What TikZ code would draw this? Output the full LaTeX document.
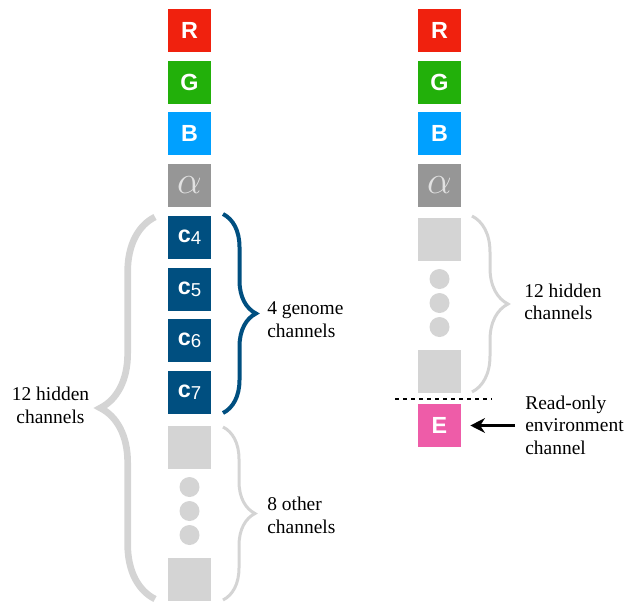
\documentclass[tikz,border=0pt]{standalone}
\usepackage{fontspec}
\usepackage{graphicx}
\setmainfont{Liberation Serif}
\setsansfont{Liberation Sans}
\usetikzlibrary{arrows.meta,decorations.pathreplacing}
\definecolor{chanred}{RGB}{240,33,14}
\definecolor{changreen}{RGB}{34,176,10}
\definecolor{chanblue}{RGB}{0,160,255}
\definecolor{changray}{RGB}{150,150,150}
\definecolor{alphagray}{RGB}{225,225,225}
\definecolor{genomeblue}{RGB}{0,79,128}
\definecolor{hiddengray}{RGB}{212,212,212}
\definecolor{envpink}{RGB}{238,92,168}
\newcommand{\chanlabel}[1]{c\raisebox{-1.5pt}{\mdseries\fontsize{14}{14}\selectfont #1}}
\newcommand{\alphalabel}{\scalebox{1.7}{$\alpha$}}
\begin{document}
\begin{tikzpicture}[x=0.75pt,y=-0.75pt,
    chan/.style={minimum size=32.25pt,inner sep=0pt,text=white,
      font=\sffamily\bfseries\fontsize{17.5}{17.5}\selectfont},
    hidden/.style={minimum size=32.25pt,inner sep=0pt,fill=hiddengray},
    dot/.style={circle,fill=hiddengray,minimum size=15pt,inner sep=0pt},
    lbl/.style={inner sep=0pt,font=\fontsize{14.6}{17}\selectfont},
    curly/.style={decorate,decoration={brace,amplitude=#1}}]
  \useasboundingbox (0,0) rectangle (629,601);
  % left column
  \node[chan,fill=chanred] (R1) at (189.5,30.5) {R};
  \node[chan,fill=changreen] (G1) at (189.5,82.5) {G};
  \node[chan,fill=chanblue] (B1) at (189.5,133.5) {B};
  \node[chan,fill=changray,text=alphagray] (A1) at (189.5,185.5) {\alphalabel};
  \node[chan,fill=genomeblue] (C4) at (189.5,237.5) {\chanlabel{4}};
  \node[chan,fill=genomeblue] (C5) at (189.5,289.5) {\chanlabel{5}};
  \node[chan,fill=genomeblue] (C6) at (189.5,340.5) {\chanlabel{6}};
  \node[chan,fill=genomeblue] (C7) at (189.5,392.5) {\chanlabel{7}};
  \node[hidden] (H1) at (189.5,447.5) {};
  \node[dot] (d1) at (189.5,487) {};
  \node[dot] (d2) at (189.5,511) {};
  \node[dot] (d3) at (189.5,535) {};
  \node[hidden] (H2) at (189.5,579.5) {};
  % right column
  \node[chan,fill=chanred] (R2) at (439.5,30.5) {R};
  \node[chan,fill=changreen] (G2) at (439.5,82.5) {G};
  \node[chan,fill=chanblue] (B2) at (439.5,133.5) {B};
  \node[chan,fill=changray,text=alphagray] (A2) at (439.5,185.5) {\alphalabel};
  \node[hidden] (H3) at (439.5,239.5) {};
  \node[dot] (d4) at (439.5,279) {};
  \node[dot] (d5) at (439.5,303) {};
  \node[dot] (d6) at (439.5,327) {};
  \node[hidden] (H4) at (439.5,371.5) {};
  \node[chan,fill=envpink] (E) at (439.5,425.5) {E};
  % braces
  \draw[curly=24.75pt,genomeblue,line width=3pt] (223,214) -- (223,413);
  \draw[curly=24pt,hiddengray,line width=2.25pt] (223,427) -- (223,600);
  \draw[curly=41pt,hiddengray,line width=5pt] (155,599) -- (155,217);
  \draw[curly=27pt,hiddengray,line width=2.25pt] (472,216) -- (472,392);
  % labels
  \node[lbl,anchor=west,align=left] (genome) at (267,320) {4 genome\\channels};
  \node[lbl,anchor=west,align=left] (other) at (267,515) {8 other\\channels};
  \node[lbl,align=center] (hidL) at (50.5,405) {12 hidden\\channels};
  \node[lbl,anchor=west,align=left] (hidR) at (524,302) {12 hidden\\channels};
  \node[lbl,anchor=west,align=left] (envlbl) at (525,425) {Read-only\\environment\\channel};
  % cut line and arrow
  \coordinate (cutL) at (395,399);
  \coordinate (cutR) at (492,399);
  \draw[dashed,line width=1.5pt] (cutL) -- (cutR);
  \draw[-{Stealth[length=11pt,width=11pt]},line width=2pt,shorten <=7.5pt,shorten >=6.75pt]
    (envlbl.west |- E) -- (E.east);
\end{tikzpicture}
\end{document}
